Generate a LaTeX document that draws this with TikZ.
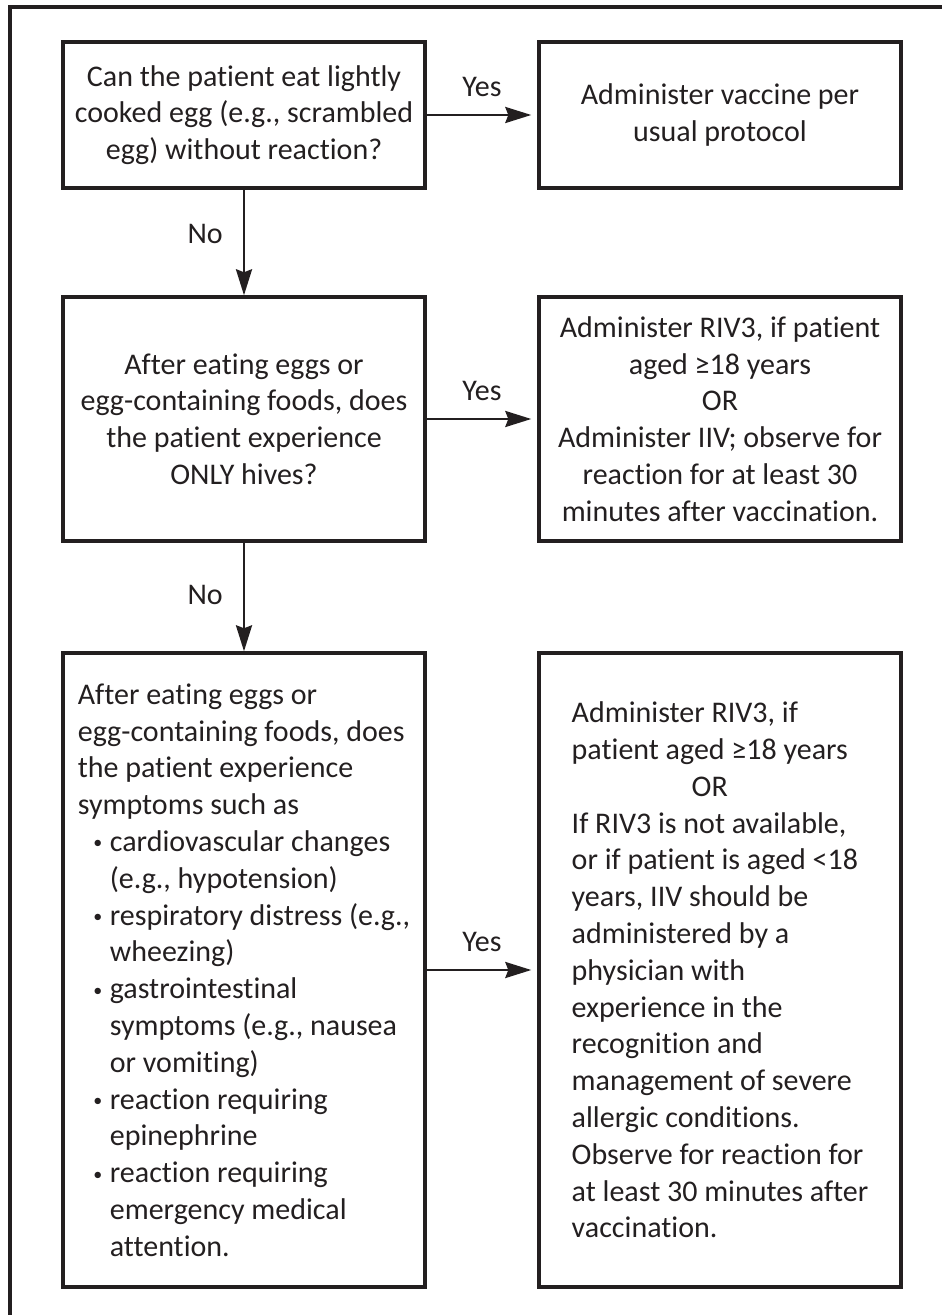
\documentclass[tikz,border=0pt]{standalone}
\usepackage{fontspec}
\setmainfont{Carlito}[Ligatures=NoCommon]
\usetikzlibrary{arrows.meta,positioning}
\definecolor{ink}{HTML}{231F20}
\newcommand{\itm}{\hspace*{6.5pt}\makebox[7pt]{\raisebox{1.3pt}{\scalebox{.6}{•}}}\hspace*{2.5pt}}
\newcommand{\cnt}{\hspace*{16pt}}

\begin{document}
\begin{tikzpicture}[x=0.5pt,y=-0.5pt,
    font=\fontsize{15}{18.4}\selectfont,
    box/.style={draw=ink,line width=1.7pt,minimum width=181pt,inner sep=0pt,align=center,text=ink},
    flow/.style={draw=ink,line width=1.3pt,-{Stealth[length=13pt,width=8pt,inset=1.5pt]}},
    lbl/.style={text=ink,inner sep=2pt}]
    \useasboundingbox (0,0) rectangle (941,1315);
    \draw[ink,line width=1.6pt](10,1320)--(10,7)--(946,7);

    \node[box,minimum height=73pt] (eggok) at (244,115) {Can the patient eat lightly\\cooked egg (e.g., scrambled\\egg) without reaction?};
    \node[box,minimum height=73pt] (usual) at (720,115) {Administer vaccine per\\usual protocol};
    \node[box,minimum height=122pt] (hives) at (244,419) {After eating eggs or\\egg-containing foods, does\\the patient experience\\ONLY hives?};
    \node[box,minimum height=122pt] (riviiv) at (720,419) {Administer RIV3, if patient\\aged ≥18 years\\OR\\Administer IIV; observe for\\reaction for at least 30\\minutes after vaccination.};
    \node[box,minimum height=317pt,align=left] (severe) at (244,970) {After eating eggs or\\
      egg-containing foods, does\\
      the patient experience\\
      symptoms such as\\
      \itm cardiovascular changes\\
      \cnt(e.g., hypotension)\\
      \itm respiratory distress (e.g.,\\
      \cnt wheezing)\\
      \itm gastrointestinal\\
      \cnt symptoms (e.g., nausea\\
      \cnt or vomiting)\\
      \itm reaction requiring\\
      \cnt epinephrine\\
      \itm reaction requiring\\
      \cnt emergency medical\\
      \cnt attention.};
    \node[box,minimum height=317pt,align=left] (physician) at (720,970) {Administer RIV3, if\\
      patient aged ≥18 years\\
      \hspace*{60pt}OR\\
      If RIV3 is not available,\\
      or if patient is aged <18\\
      years, IIV should be\\
      administered by a\\
      physician with\\
      experience in the\\
      recognition and\\
      management of severe\\
      allergic conditions.\\
      Observe for reaction for\\
      at least 30 minutes after\\
      vaccination.};

    \draw[flow,shorten >=3pt](eggok)--node[lbl,above=6.5pt]{Yes}(usual);
    \draw[flow,shorten >=3pt](hives)--node[lbl,above=6.5pt]{Yes}(riviiv);
    \draw[flow,shorten >=3pt](severe)--node[lbl,above=6.5pt]{Yes}(physician);
    \draw[flow](eggok)--node[lbl,left=8pt,pos=.42]{No}(hives);
    \draw[flow](hives)--node[lbl,left=8pt,pos=.48]{No}(severe);
  \end{tikzpicture}
\end{document}
